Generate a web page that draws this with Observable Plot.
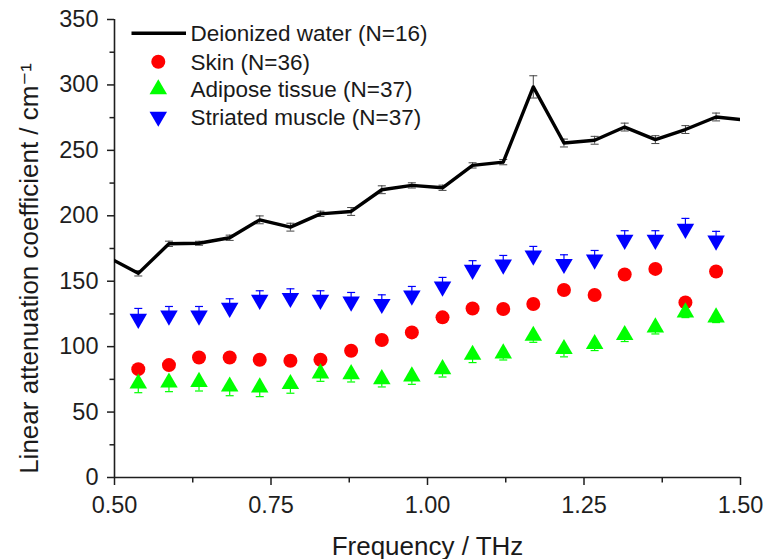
<!DOCTYPE html>
<html>
<head>
<meta charset="utf-8">
<script src="https://cdn.jsdelivr.net/npm/d3@7"></script>
<script src="https://cdn.jsdelivr.net/npm/@observablehq/plot@0.6"></script>
<style>
  body { margin: 0; background: #fff; }
  #chart svg { display: block; }
</style>
</head>
<body>
<div id="chart"></div>
<script>
// ---------- data ----------
const freq = [0.538, 0.587, 0.635, 0.684, 0.732, 0.781, 0.829, 0.878, 0.927, 0.975,
              1.024, 1.072, 1.121, 1.169, 1.218, 1.267, 1.315, 1.364, 1.412, 1.461];

const waterFreq = [0.489, 0.538, 0.587, 0.635, 0.684, 0.732, 0.781, 0.829, 0.878, 0.927, 0.975,
                   1.024, 1.072, 1.121, 1.169, 1.218, 1.267, 1.315, 1.364, 1.412, 1.461, 1.510];
const water    = [168.5, 156.0, 178.6, 179.0, 183.2, 196.9, 191.3, 201.5, 203.3, 219.9, 223.2,
                  221.4, 238.5, 241.0, 298.5, 255.6, 257.7, 267.8, 258.2, 265.9, 275.5, 273.0];
const waterErr = [0, 2, 2, 1.5, 2, 3, 3, 2, 3, 3, 2,
                  2, 2, 2, 8.5, 3, 3, 3, 3, 3, 3, 0];

const skin = [82.8, 85.9, 91.7, 91.7, 90.0, 89.2, 90.0, 96.9, 105.1, 110.9,
              122.4, 129.2, 128.8, 132.6, 143.3, 139.5, 155.1, 159.4, 133.8, 157.4];

const adipose    = [71.8, 72.6, 73.1, 69.5, 68.8, 71.4, 79.5, 79.0, 75.2, 77.2,
                    82.8, 93.8, 94.8, 108.3, 98.2, 102.0, 108.9, 114.7, 126.2, 122.4];
const adiposeErr = [7, 7, 7, 7, 7, 7, 6, 6, 6, 6,
                    6, 6, 5, 5, 6, 5, 5, 5, 4, 4];

const muscle    = [121.2, 123.7, 123.7, 129.6, 135.7, 137.2, 135.7, 134.4, 132.6, 139.0,
                   145.9, 158.7, 162.7, 169.6, 163.2, 166.5, 181.6, 181.6, 190.0, 181.1];
const muscleErr = [8, 7, 7, 7, 7, 7, 7, 7, 7, 7,
                   7, 7, 7, 7, 7, 7, 7, 7, 8, 7];

const seriesNames  = ["Deionized water (N=16)", "Skin (N=36)", "Adipose tissue (N=37)", "Striated muscle (N=37)"];
const seriesColors = ["#000000", "#ff0000", "#00ff00", "#0000ff"];

const xTicks = [0.5, 0.75, 1.0, 1.25, 1.5];
const xMinor = [0.625, 0.875, 1.125, 1.375];
const yTicks = [0, 50, 100, 150, 200, 250, 300, 350];
const yMinor = [25, 75, 125, 175, 225, 275, 325];

const xTitle = "Frequency / THz";
const yTitle = "Linear attenuation coefficient / cm\u207B\u00B9";

// ---------- tables ----------
const waterData = waterFreq.map((f, i) => ({f, v: water[i], e: waterErr[i]}));
const waterErrData = waterData.filter(d => d.e > 0);
const skinData = freq.map((f, i) => ({f, v: skin[i]}));
const adiposeData = freq.map((f, i) => ({f, v: adipose[i], e: adiposeErr[i]}));
const muscleData = freq.map((f, i) => ({f, v: muscle[i], e: muscleErr[i]}));

// ---------- symbols ----------
const SQ3 = Math.sqrt(3);
const triangleDown = {
  draw(ctx, size) {
    const y = Math.sqrt(size / (SQ3 * 3));
    ctx.moveTo(0, 2 * y);
    ctx.lineTo(-SQ3 * y, -y);
    ctx.lineTo(SQ3 * y, -y);
    ctx.closePath();
  }
};
const capSym = { draw(ctx) { ctx.moveTo(-4, 0); ctx.lineTo(4, 0); } };

const FONT = "'Liberation Sans', Arial, 'DejaVu Sans', sans-serif";
const AXIS = "#1e1e1e";

const chart = Plot.plot({
  width: 763,
  height: 559,
  marginLeft: 114,
  marginRight: 23,
  marginTop: 19,
  marginBottom: 82,
  style: { fontFamily: FONT, fontSize: "23.5px", color: "#1a1a1a", background: "#fff" },
  x: { domain: [0.5, 1.5], axis: null },
  y: { domain: [0, 350], axis: null },
  marks: [
    // axes
    Plot.axisX({ ticks: xTicks, tickFormat: d3.format(".2f"), tickSize: 8, tickPadding: 11,
                 label: null, color: AXIS, strokeWidth: 1.5 }),
    Plot.axisX({ ticks: xMinor, tickSize: 5.5, label: null, stroke: AXIS, fill: "none", strokeWidth: 1.5 }),
    Plot.axisY({ ticks: yTicks, tickSize: 7, tickPadding: 9, label: null, color: AXIS, strokeWidth: 1.5 }),
    Plot.axisY({ ticks: yMinor, tickSize: 4.5, label: null, stroke: AXIS, fill: "none", strokeWidth: 1.5 }),
    Plot.ruleX([0.5], { stroke: AXIS, strokeWidth: 1.6 }),
    Plot.ruleY([0], { stroke: AXIS, strokeWidth: 1.6 }),

    // axis titles
    Plot.text([xTitle], { frameAnchor: "bottom", dy: 77, lineAnchor: "bottom", textAnchor: "middle",
                          fontSize: 26, fill: "#1a1a1a" }),
    Plot.text([yTitle], { frameAnchor: "left", dx: -77, dy: 20, rotate: -90, lineAnchor: "bottom",
                          textAnchor: "middle", fontSize: 26, fill: "#1a1a1a" }),

    // deionized water: line + error bars
    Plot.ruleX(waterErrData, { x: "f", y1: d => d.v - d.e, y2: d => d.v + d.e, stroke: "#444", strokeWidth: 1 }),
    Plot.dot(waterErrData, { x: "f", y: d => d.v + d.e, symbol: capSym, stroke: "#444", strokeWidth: 1, r: 1 }),
    Plot.dot(waterErrData, { x: "f", y: d => d.v - d.e, symbol: capSym, stroke: "#444", strokeWidth: 1, r: 1 }),
    Plot.line(waterData, { x: "f", y: "v", stroke: seriesColors[0], strokeWidth: 3.4, clip: true,
                           strokeLinejoin: "round" }),

    // skin
    Plot.dot(skinData, { x: "f", y: "v", r: 7, fill: seriesColors[1], symbol: "circle" }),

    // adipose: downward error bars + triangles
    Plot.ruleX(adiposeData, { x: "f", y1: d => d.v - d.e, y2: "v", stroke: seriesColors[2], strokeWidth: 1.2 }),
    Plot.dot(adiposeData, { x: "f", y: d => d.v - d.e, symbol: capSym, stroke: seriesColors[2], strokeWidth: 1.2, r: 1 }),
    Plot.dot(adiposeData, { x: "f", y: "v", r: 6.5, fill: seriesColors[2], symbol: "triangle" }),

    // striated muscle: upward error bars + down triangles
    Plot.ruleX(muscleData, { x: "f", y1: "v", y2: d => d.v + d.e, stroke: seriesColors[3], strokeWidth: 1.2 }),
    Plot.dot(muscleData, { x: "f", y: d => d.v + d.e, symbol: capSym, stroke: seriesColors[3], strokeWidth: 1.2, r: 1 }),
    Plot.dot(muscleData, { x: "f", y: "v", r: 6.5, fill: seriesColors[3], symbol: triangleDown })
  ]
});

document.getElementById("chart").appendChild(chart);

// ---------- legend (inside the plot, top-left) ----------
const legendRowY = [33.3, 61.7, 89.3, 116.7];
const svg = d3.select(chart);
const lg = svg.append("g")
  .attr("font-family", FONT)
  .attr("font-size", 22.5)
  .attr("fill", "#1a1a1a")
  .attr("text-anchor", "start");
const legendSymbols = [null, d3.symbolCircle, d3.symbolTriangle, triangleDown];
const legendSizes = [0, Math.PI * 49, Math.PI * 6.5 * 6.5, Math.PI * 6.5 * 6.5];
seriesNames.forEach((name, i) => {
  const y = legendRowY[i];
  if (i === 0) {
    lg.append("line").attr("x1", 131.5).attr("x2", 186).attr("y1", y).attr("y2", y)
      .attr("stroke", seriesColors[0]).attr("stroke-width", 3.6);
  } else {
    lg.append("path")
      .attr("d", d3.symbol(legendSymbols[i], legendSizes[i])())
      .attr("transform", `translate(158.3,${y})`)
      .attr("fill", seriesColors[i]);
  }
  lg.append("text").attr("x", 190.5).attr("y", y).attr("dy", "0.36em")
    .attr("text-anchor", "start").text(name);
});
</script>
</body>
</html>
